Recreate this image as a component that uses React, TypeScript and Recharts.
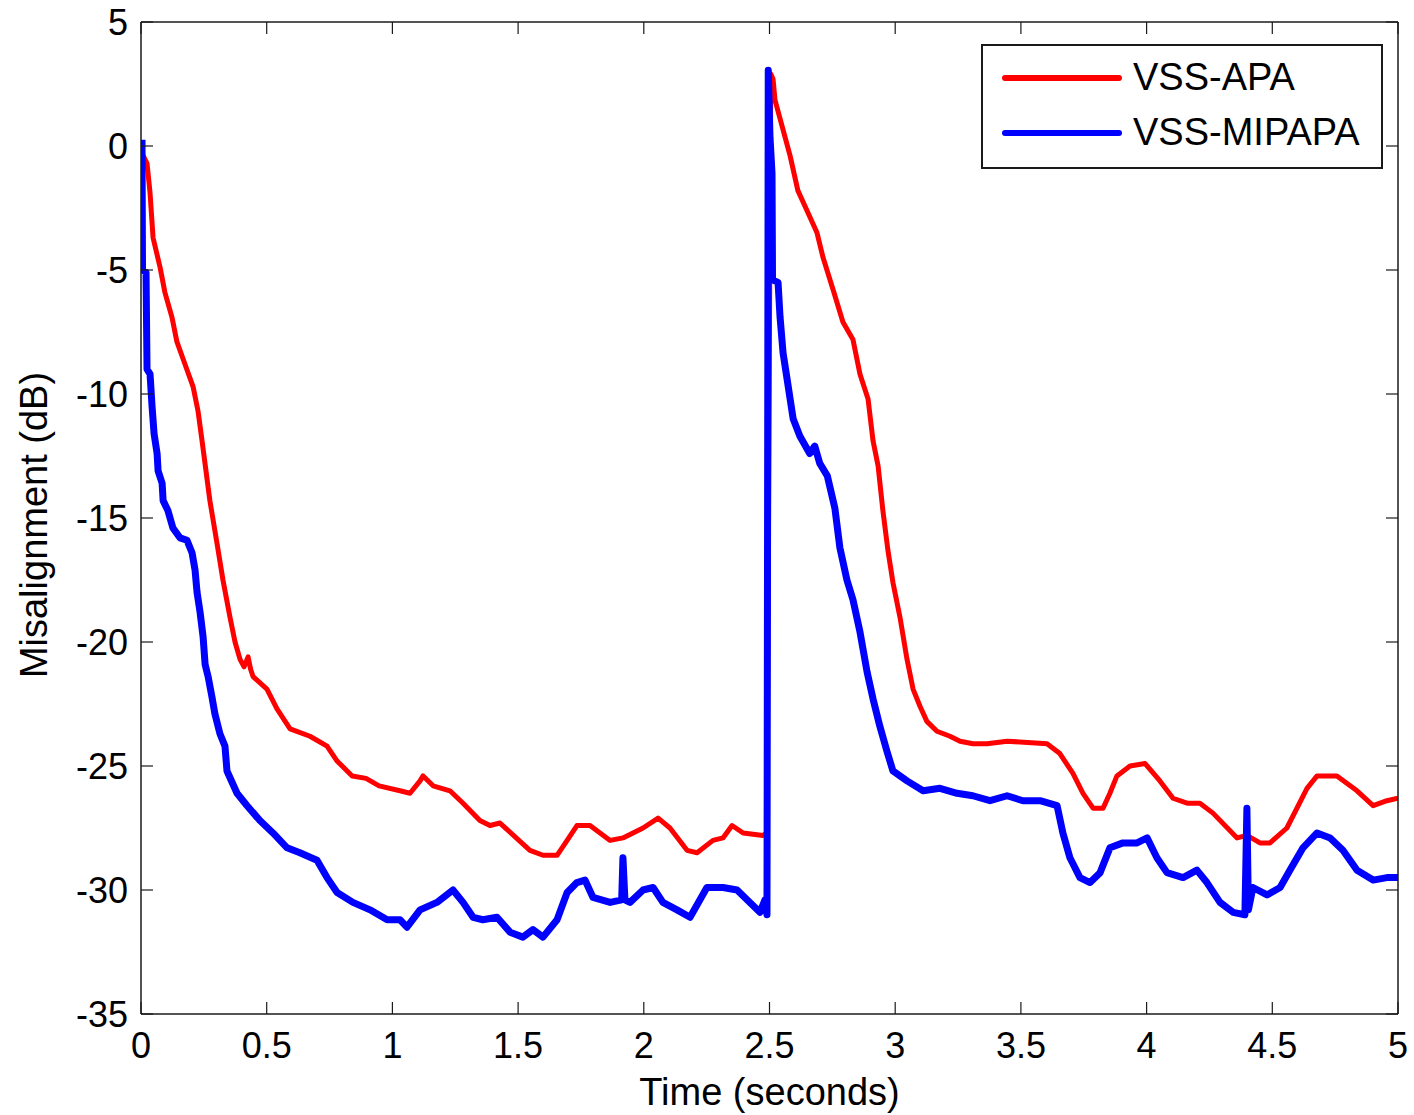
import React from "react";
import { LineChart, Line, XAxis, YAxis, Legend } from "recharts";

// misalignment curves (time in seconds, dB)
const vssApa = [
  { t: 0.004, v: -0.3 }, { t: 0.024, v: -0.7 }, { t: 0.036, v: -1.9 }, { t: 0.048, v: -3.7 },
  { t: 0.076, v: -4.9 }, { t: 0.095, v: -5.9 }, { t: 0.123, v: -6.9 }, { t: 0.143, v: -7.9 },
  { t: 0.175, v: -8.8 }, { t: 0.207, v: -9.7 }, { t: 0.227, v: -10.7 }, { t: 0.243, v: -11.9 },
  { t: 0.274, v: -14.3 }, { t: 0.302, v: -16.0 }, { t: 0.326, v: -17.5 }, { t: 0.354, v: -19.0 },
  { t: 0.374, v: -20.0 }, { t: 0.394, v: -20.7 }, { t: 0.41, v: -21.0 }, { t: 0.426, v: -20.6 },
  { t: 0.436, v: -21.1 }, { t: 0.446, v: -21.4 }, { t: 0.501, v: -21.9 }, { t: 0.541, v: -22.7 },
  { t: 0.593, v: -23.5 }, { t: 0.672, v: -23.8 }, { t: 0.74, v: -24.2 }, { t: 0.78, v: -24.8 },
  { t: 0.84, v: -25.4 }, { t: 0.895, v: -25.5 }, { t: 0.947, v: -25.8 }, { t: 1.03, v: -26.0 },
  { t: 1.07, v: -26.1 }, { t: 1.11, v: -25.6 }, { t: 1.122, v: -25.4 }, { t: 1.162, v: -25.8 },
  { t: 1.229, v: -26.0 }, { t: 1.281, v: -26.5 }, { t: 1.348, v: -27.2 }, { t: 1.388, v: -27.4 },
  { t: 1.428, v: -27.3 }, { t: 1.547, v: -28.4 }, { t: 1.599, v: -28.6 }, { t: 1.655, v: -28.6 },
  { t: 1.695, v: -28.0 }, { t: 1.734, v: -27.4 }, { t: 1.786, v: -27.4 }, { t: 1.866, v: -28.0 },
  { t: 1.917, v: -27.9 }, { t: 1.997, v: -27.5 }, { t: 2.057, v: -27.1 }, { t: 2.104, v: -27.5 },
  { t: 2.172, v: -28.4 }, { t: 2.212, v: -28.5 }, { t: 2.275, v: -28.0 }, { t: 2.315, v: -27.9 },
  { t: 2.351, v: -27.4 }, { t: 2.395, v: -27.7 }, { t: 2.474, v: -27.8 }, { t: 2.49, v: -27.7 },
  { t: 2.505, v: 2.9 }, { t: 2.514, v: 2.7 }, { t: 2.522, v: 1.85 }, { t: 2.55, v: 0.8 },
  { t: 2.582, v: -0.4 }, { t: 2.613, v: -1.8 }, { t: 2.649, v: -2.6 }, { t: 2.689, v: -3.5 },
  { t: 2.713, v: -4.5 }, { t: 2.753, v: -5.8 }, { t: 2.792, v: -7.1 }, { t: 2.832, v: -7.8 },
  { t: 2.86, v: -9.2 }, { t: 2.892, v: -10.2 }, { t: 2.912, v: -11.9 }, { t: 2.932, v: -12.9 },
  { t: 2.951, v: -14.7 }, { t: 2.971, v: -16.3 }, { t: 2.991, v: -17.6 }, { t: 3.019, v: -19.0 },
  { t: 3.047, v: -20.7 }, { t: 3.071, v: -21.9 }, { t: 3.099, v: -22.6 }, { t: 3.126, v: -23.2 },
  { t: 3.166, v: -23.6 }, { t: 3.218, v: -23.8 }, { t: 3.258, v: -24.0 }, { t: 3.309, v: -24.1 },
  { t: 3.365, v: -24.1 }, { t: 3.445, v: -24.0 }, { t: 3.604, v: -24.1 }, { t: 3.655, v: -24.5 },
  { t: 3.707, v: -25.3 }, { t: 3.747, v: -26.1 }, { t: 3.787, v: -26.7 }, { t: 3.827, v: -26.7 },
  { t: 3.854, v: -26.1 }, { t: 3.882, v: -25.4 }, { t: 3.934, v: -25.0 }, { t: 3.994, v: -24.9 },
  { t: 4.053, v: -25.6 }, { t: 4.105, v: -26.3 }, { t: 4.161, v: -26.5 }, { t: 4.212, v: -26.5 },
  { t: 4.264, v: -26.9 }, { t: 4.36, v: -27.9 }, { t: 4.399, v: -27.8 }, { t: 4.451, v: -28.1 },
  { t: 4.491, v: -28.1 }, { t: 4.558, v: -27.5 }, { t: 4.638, v: -25.9 }, { t: 4.678, v: -25.4 },
  { t: 4.757, v: -25.4 }, { t: 4.837, v: -26.0 }, { t: 4.901, v: -26.6 }, { t: 4.956, v: -26.4 },
  { t: 5.0, v: -26.3 },
];

const vssMipapa = [
  { t: 0.004, v: 0.25 }, { t: 0.006, v: -5.0 }, { t: 0.02, v: -5.1 }, { t: 0.024, v: -9.0 },
  { t: 0.036, v: -9.2 }, { t: 0.044, v: -10.5 }, { t: 0.052, v: -11.6 }, { t: 0.064, v: -12.4 },
  { t: 0.068, v: -13.1 }, { t: 0.084, v: -13.6 }, { t: 0.088, v: -14.3 }, { t: 0.107, v: -14.7 },
  { t: 0.127, v: -15.4 }, { t: 0.155, v: -15.8 }, { t: 0.183, v: -15.9 }, { t: 0.203, v: -16.4 },
  { t: 0.215, v: -17.1 }, { t: 0.223, v: -18.0 }, { t: 0.235, v: -18.8 }, { t: 0.247, v: -19.8 },
  { t: 0.255, v: -20.9 }, { t: 0.267, v: -21.4 }, { t: 0.282, v: -22.2 }, { t: 0.294, v: -22.9 },
  { t: 0.314, v: -23.7 }, { t: 0.334, v: -24.2 }, { t: 0.342, v: -25.2 }, { t: 0.382, v: -26.1 },
  { t: 0.422, v: -26.6 }, { t: 0.473, v: -27.2 }, { t: 0.525, v: -27.7 }, { t: 0.581, v: -28.3 },
  { t: 0.632, v: -28.5 }, { t: 0.7, v: -28.8 }, { t: 0.74, v: -29.5 }, { t: 0.78, v: -30.1 },
  { t: 0.843, v: -30.5 }, { t: 0.911, v: -30.8 }, { t: 0.979, v: -31.2 }, { t: 1.03, v: -31.2 },
  { t: 1.058, v: -31.5 }, { t: 1.11, v: -30.8 }, { t: 1.177, v: -30.5 }, { t: 1.241, v: -30.0 },
  { t: 1.281, v: -30.5 }, { t: 1.321, v: -31.1 }, { t: 1.36, v: -31.2 }, { t: 1.416, v: -31.1 },
  { t: 1.468, v: -31.7 }, { t: 1.519, v: -31.9 }, { t: 1.559, v: -31.6 }, { t: 1.599, v: -31.9 },
  { t: 1.655, v: -31.2 }, { t: 1.695, v: -30.1 }, { t: 1.734, v: -29.7 }, { t: 1.766, v: -29.6 },
  { t: 1.798, v: -30.3 }, { t: 1.866, v: -30.5 }, { t: 1.912, v: -30.4 }, { t: 1.917, v: -28.7 },
  { t: 1.925, v: -30.4 }, { t: 1.945, v: -30.5 }, { t: 1.997, v: -30.0 }, { t: 2.037, v: -29.9 },
  { t: 2.076, v: -30.5 }, { t: 2.132, v: -30.8 }, { t: 2.184, v: -31.1 }, { t: 2.251, v: -29.9 },
  { t: 2.315, v: -29.9 }, { t: 2.371, v: -30.0 }, { t: 2.422, v: -30.5 }, { t: 2.462, v: -30.9 },
  { t: 2.482, v: -30.4 }, { t: 2.49, v: -31.0 }, { t: 2.495, v: 3.05 }, { t: 2.502, v: 0.35 },
  { t: 2.51, v: -1.1 }, { t: 2.512, v: -5.4 }, { t: 2.534, v: -5.5 }, { t: 2.542, v: -6.9 },
  { t: 2.554, v: -8.35 }, { t: 2.57, v: -9.4 }, { t: 2.582, v: -10.2 }, { t: 2.594, v: -11.0 },
  { t: 2.621, v: -11.7 }, { t: 2.66, v: -12.4 }, { t: 2.68, v: -12.1 }, { t: 2.7, v: -12.8 },
  { t: 2.73, v: -13.3 }, { t: 2.76, v: -14.6 }, { t: 2.78, v: -16.2 }, { t: 2.808, v: -17.5 },
  { t: 2.832, v: -18.3 }, { t: 2.86, v: -19.6 }, { t: 2.888, v: -21.2 }, { t: 2.912, v: -22.3 },
  { t: 2.939, v: -23.4 }, { t: 2.967, v: -24.4 }, { t: 2.991, v: -25.2 }, { t: 3.047, v: -25.6 },
  { t: 3.111, v: -26.0 }, { t: 3.178, v: -25.9 }, { t: 3.246, v: -26.1 }, { t: 3.309, v: -26.2 },
  { t: 3.377, v: -26.4 }, { t: 3.445, v: -26.2 }, { t: 3.508, v: -26.4 }, { t: 3.576, v: -26.4 },
  { t: 3.644, v: -26.6 }, { t: 3.667, v: -27.7 }, { t: 3.695, v: -28.7 }, { t: 3.735, v: -29.5 },
  { t: 3.775, v: -29.7 }, { t: 3.815, v: -29.3 }, { t: 3.854, v: -28.3 }, { t: 3.906, v: -28.1 },
  { t: 3.962, v: -28.1 }, { t: 4.002, v: -27.9 }, { t: 4.041, v: -28.7 }, { t: 4.081, v: -29.3 },
  { t: 4.145, v: -29.5 }, { t: 4.2, v: -29.2 }, { t: 4.24, v: -29.7 }, { t: 4.292, v: -30.5 },
  { t: 4.344, v: -30.9 }, { t: 4.391, v: -31.0 }, { t: 4.399, v: -26.7 }, { t: 4.405, v: -30.8 },
  { t: 4.423, v: -29.9 }, { t: 4.479, v: -30.2 }, { t: 4.531, v: -29.9 }, { t: 4.57, v: -29.2 },
  { t: 4.622, v: -28.3 }, { t: 4.678, v: -27.7 }, { t: 4.73, v: -27.9 }, { t: 4.781, v: -28.4 },
  { t: 4.837, v: -29.2 }, { t: 4.901, v: -29.6 }, { t: 4.956, v: -29.5 }, { t: 5.0, v: -29.5 },
];

const xTicks = [0, 0.5, 1, 1.5, 2, 2.5, 3, 3.5, 4, 4.5, 5];
const yTicks = [-35, -30, -25, -20, -15, -10, -5, 0, 5];

const FONT = "'Liberation Sans', Arial, sans-serif";
const AXIS = "#1a1a1a";

// tick marks only, no labels (inward MATLAB-style ticks)
const noLabel = () => <g />;

function BoxLegend({ payload }: any) {
  const items = (payload || []).filter((e: any) => e.type !== "none");
  return (
    <div
      style={{
        width: 398,
        height: 117,
        border: `2px solid ${AXIS}`,
        background: "#fff",
        fontFamily: FONT,
        fontSize: 38,
        paddingTop: 4,
      }}
    >
      {items.map((entry: any) => (
        <div key={entry.value} style={{ display: "flex", alignItems: "center", height: 55 }}>
          <div
            style={{
              marginLeft: 19,
              width: 120,
              height: 6,
              borderRadius: 3,
              background: entry.color,
            }}
          />
          <span style={{ marginLeft: 11, color: "#000", lineHeight: "55px" }}>{entry.value}</span>
        </div>
      ))}
    </div>
  );
}

export default function App() {
  const tickStyle = { fill: "#000", fontSize: 36, fontFamily: FONT };
  return (
    <div style={{ position: "absolute", left: 0, top: 0, background: "#fff" }}>
      <LineChart
        width={1414}
        height={1115}
        margin={{ top: 22, right: 16, bottom: 0, left: 0 }}
        style={{ fontFamily: FONT }}
      >
        <XAxis
          xAxisId="b"
          type="number"
          dataKey="t"
          domain={[0, 5]}
          ticks={xTicks}
          allowDataOverflow
          height={101}
          tickLine={false}
          tickSize={0}
          tickMargin={18}
          axisLine={{ stroke: AXIS, strokeWidth: 1.5 }}
          tick={tickStyle}
          label={{
            value: "Time (seconds)",
            position: "insideBottom",
            offset: 10,
            fill: "#000",
            fontSize: 38,
            fontFamily: FONT,
          }}
        />
        <XAxis
          xAxisId="bm"
          type="number"
          dataKey="t"
          domain={[0, 5]}
          ticks={xTicks}
          allowDataOverflow
          mirror
          tick={noLabel}
          tickSize={12}
          axisLine={false}
          tickLine={{ stroke: AXIS, strokeWidth: 1.2 }}
        />
        <XAxis
          xAxisId="t"
          orientation="top"
          type="number"
          dataKey="t"
          domain={[0, 5]}
          ticks={xTicks}
          allowDataOverflow
          mirror
          tick={noLabel}
          tickSize={12}
          axisLine={{ stroke: AXIS, strokeWidth: 1.5 }}
          tickLine={{ stroke: AXIS, strokeWidth: 1.2 }}
        />
        <YAxis
          yAxisId="l"
          type="number"
          domain={[-35, 5]}
          ticks={yTicks}
          allowDataOverflow
          width={141}
          tickLine={false}
          tickSize={0}
          tickMargin={13}
          axisLine={{ stroke: AXIS, strokeWidth: 1.5 }}
          tick={tickStyle}
          label={({ viewBox }: any) => (
            <text
              x={viewBox.x + 34}
              y={viewBox.y + viewBox.height / 2 + 7}
              transform={`rotate(-90, ${viewBox.x + 34}, ${viewBox.y + viewBox.height / 2 + 7})`}
              textAnchor="middle"
              dominantBaseline="central"
              fill="#000"
              fontSize={38}
              fontFamily={FONT}
            >
              Misalignment (dB)
            </text>
          )}
        />
        <YAxis
          yAxisId="lm"
          type="number"
          domain={[-35, 5]}
          ticks={yTicks}
          allowDataOverflow
          mirror
          tick={noLabel}
          tickSize={12}
          axisLine={false}
          tickLine={{ stroke: AXIS, strokeWidth: 1.2 }}
        />
        <YAxis
          yAxisId="r"
          orientation="right"
          type="number"
          domain={[-35, 5]}
          ticks={yTicks}
          allowDataOverflow
          mirror
          tick={noLabel}
          tickSize={12}
          axisLine={{ stroke: AXIS, strokeWidth: 1.5 }}
          tickLine={{ stroke: AXIS, strokeWidth: 1.2 }}
        />
        <Legend
          layout="vertical"
          align="center"
          verticalAlign="middle"
          wrapperStyle={{ left: 981, top: 44, width: 402 }}
          content={<BoxLegend />}
        />
        {/* invisible series so the tick-only axes get a scale */}
        <Line
          xAxisId="bm"
          yAxisId="lm"
          data={vssApa}
          dataKey="v"
          stroke="none"
          legendType="none"
          dot={false}
          activeDot={false}
          isAnimationActive={false}
        />
        <Line
          xAxisId="t"
          yAxisId="r"
          data={vssApa}
          dataKey="v"
          stroke="none"
          legendType="none"
          dot={false}
          activeDot={false}
          isAnimationActive={false}
        />
        <Line
          xAxisId="b"
          yAxisId="l"
          data={vssApa}
          dataKey="v"
          name="VSS-APA"
          type="linear"
          stroke="#ff0000"
          strokeWidth={5}
          strokeLinejoin="round"
          dot={false}
          isAnimationActive={false}
        />
        <Line
          xAxisId="b"
          yAxisId="l"
          data={vssMipapa}
          dataKey="v"
          name="VSS-MIPAPA"
          type="linear"
          stroke="#0000ff"
          strokeWidth={7}
          strokeLinejoin="round"
          dot={false}
          isAnimationActive={false}
        />
      </LineChart>
    </div>
  );
}
